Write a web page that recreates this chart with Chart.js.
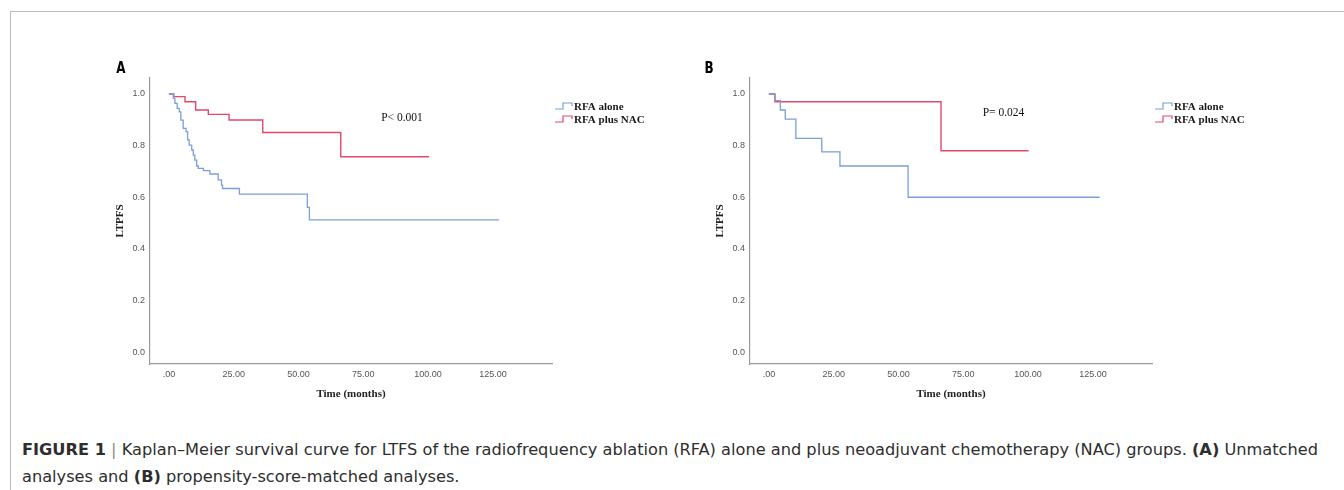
<!DOCTYPE html>
<html><head><meta charset="utf-8">
<script src="https://cdn.jsdelivr.net/npm/chart.js@4.4.1/dist/chart.umd.min.js"></script>
<style>
html,body{margin:0;padding:0;background:#fff;width:1344px;height:490px;overflow:hidden;position:relative}
#frame{position:absolute;left:10px;top:11px;width:1400px;height:500px;border-top:1.5px solid #bcbcbc;border-left:1.5px solid #bcbcbc}
.cw{position:absolute;top:50px;width:600px;height:350px}
#cap{position:absolute;left:22px;top:437px;font-family:"DejaVu Sans",sans-serif;font-stretch:condensed;font-size:15px;color:#2e2e2e;line-height:27px;white-space:nowrap}
#cap span.l{display:inline-block;transform-origin:0 50%}
#cap b{font-weight:bold}
#cap .bar{color:#8a8a8a}
</style></head><body>
<div id="frame"></div>
<div class="cw" style="left:100px"><canvas id="cA"></canvas></div>
<div class="cw" style="left:700px"><canvas id="cB"></canvas></div>
<div id="cap"><span class="l" id="l1"><b>FIGURE 1</b> <span class="bar">|</span> Kaplan–Meier survival curve for LTFS of the radiofrequency ablation (RFA) alone and plus neoadjuvant chemotherapy (NAC) groups. <b>(A)</b> Unmatched</span><br><span class="l" id="l2">analyses and <b>(B)</b> propensity-score-matched analyses.</span></div>
<script>
// ---- data ----
const seriesNames = ["RFA alone", "RFA plus NAC"];
const timeA_alone = [0, 1.7, 2.3, 3.2, 4.0, 4.6, 5.5, 6.6, 7.2, 7.8, 8.8, 9.4, 10.0, 10.7, 11.3, 13.3, 15.8, 19.0, 20.3, 20.7, 27.2, 53.4, 54.2, 127.4];
const survA_alone = [1.0, 0.983, 0.964, 0.944, 0.931, 0.899, 0.867, 0.854, 0.822, 0.802, 0.783, 0.763, 0.744, 0.721, 0.712, 0.703, 0.690, 0.667, 0.647, 0.634, 0.612, 0.561, 0.512, 0.512];
const timeA_nac = [0, 1.9, 6.2, 10.3, 15.2, 23.2, 36.2, 66.3, 100.4];
const survA_nac = [1.0, 0.99, 0.970, 0.938, 0.921, 0.899, 0.851, 0.757, 0.757];
const timeB_alone = [0, 2.3, 4.4, 6.3, 10.4, 20.4, 27.4, 53.7, 127.6];
const survB_alone = [1.0, 0.974, 0.938, 0.903, 0.828, 0.776, 0.721, 0.600, 0.600];
const timeB_nac = [0, 2.3, 66.4, 100.2];
const survB_nac = [1.0, 0.970, 0.780, 0.780];
const xTickValues = [0, 25, 50, 75, 100, 125];
const xTickLabels = [".00", "25.00", "50.00", "75.00", "100.00", "125.00"];
const yTickValues = [0, 0.2, 0.4, 0.6, 0.8, 1.0];
const yTickLabels = ["0.0", "0.2", "0.4", "0.6", "0.8", "1.0"];
const pTexts = ["P< 0.001", "P= 0.024"];
const panelLetters = ["A", "B"];
const xTitle = "Time (months)";
const yTitle = "LTPFS";

const BLUE = "#7b9fd8", RED = "#e0486c";
const SERIF = '"Liberation Serif","DejaVu Serif",serif';
const SANS = '"Liberation Sans",Arial,sans-serif';

function pts(t, s){ return t.map((v,i)=>({x:v, y:s[i]})); }

const annot = {
  id:'annot',
  afterDraw(chart, args, o){
    const ctx = chart.ctx, ca = chart.chartArea;
    ctx.save();
    // panel letter
    ctx.fillStyle = '#000';
    ctx.textAlign = 'center'; ctx.textBaseline = 'middle';
    ctx.save();
    ctx.translate(o.lx, o.ly); ctx.scale(0.8, 1);
    ctx.font = 'bold 15px "DejaVu Sans",sans-serif';
    ctx.fillText(o.letter, 0, 0);
    ctx.restore();
    // axis titles
    ctx.font = 'bold 11px ' + SERIF;
    ctx.fillStyle = '#222';
    ctx.fillText(xTitle, (ca.left+ca.right)/2, 344);
    ctx.save();
    ctx.translate(20, (ca.top+ca.bottom)/2);
    ctx.rotate(-Math.PI/2);
    ctx.fillText(yTitle, 0, 0);
    ctx.restore();
    // p value
    ctx.font = '11.5px ' + SERIF;
    ctx.fillStyle = '#111';
    ctx.fillText(o.p, o.px, o.py);
    // legend
    const cols = [BLUE, RED];
    ctx.textAlign = 'left';
    ctx.font = 'bold 11px ' + SERIF;
    seriesNames.forEach((n,i)=>{
      const y = 56 + i*13, x = 455;
      ctx.strokeStyle = cols[i]; ctx.lineWidth = 1.2;
      ctx.beginPath();
      ctx.moveTo(x, y+3); ctx.lineTo(x+8, y+3); ctx.lineTo(x+8, y-3); ctx.lineTo(x+17, y-3); ctx.lineTo(x+17, y);
      ctx.stroke();
      ctx.fillStyle = '#1a1a1a';
      ctx.fillText(n, x+19, y+1);
    });
    ctx.restore();
  }
};

function makeChart(id, tA, sA, tN, sN, opts){
  return new Chart(document.getElementById(id), {
    type:'line',
    data:{datasets:[
      {label:seriesNames[0], data:pts(tA,sA), borderColor:BLUE, borderWidth:1.3, stepped:true, pointRadius:0, fill:false},
      {label:seriesNames[1], data:pts(tN,sN), borderColor:RED, borderWidth:1.4, stepped:true, pointRadius:0, fill:false}
    ]},
    options:{
      responsive:true, maintainAspectRatio:false, animation:false,
      layout:{padding:{left:0, top:28, right:148, bottom:0}},
      plugins:{legend:{display:false}, tooltip:{enabled:false}, annot:opts},
      scales:{
        x:{type:'linear', min:-7.3, max:147.8,
           grid:{display:false, drawTicks:false},
           border:{display:true, color:'#9a9a9a', width:1.2},
           afterBuildTicks:s=>{ s.ticks = xTickValues.map(v=>({value:v})); },
           afterFit:s=>{ s.height = 36; },
           ticks:{padding:5, color:'#555', font:{family:SANS, size:9}, maxRotation:0, autoSkip:false,
                  callback:(v,i)=>xTickLabels[i]}},
        y:{type:'linear', min:-0.046, max:1.062,
           grid:{display:false, drawTicks:false},
           border:{display:true, color:'#9a9a9a', width:1.2},
           afterBuildTicks:s=>{ s.ticks = yTickValues.map(v=>({value:v})); },
           afterFit:s=>{ s.width = 50; },
           ticks:{padding:5, color:'#555', font:{family:SANS, size:9}, autoSkip:false,
                  callback:(v,i)=>yTickLabels[i]}}
      }
    },
    plugins:[annot]
  });
}

makeChart('cA', timeA_alone, survA_alone, timeA_nac, survA_nac, {letter:panelLetters[0], lx:21, ly:19, p:pTexts[0], px:302, py:68});
makeChart('cB', timeB_alone, survB_alone, timeB_nac, survB_nac, {letter:panelLetters[1], lx:9, ly:19, p:pTexts[1], px:303.5, py:63});

// fit caption line widths
(function(){
  const l1 = document.getElementById('l1'), l2 = document.getElementById('l2');
  const k = 1296 / l1.getBoundingClientRect().width;
  l1.style.transform = 'scaleX(' + k + ')';
  l2.style.transform = 'scaleX(' + k + ')';
})();
</script>
</body></html>
